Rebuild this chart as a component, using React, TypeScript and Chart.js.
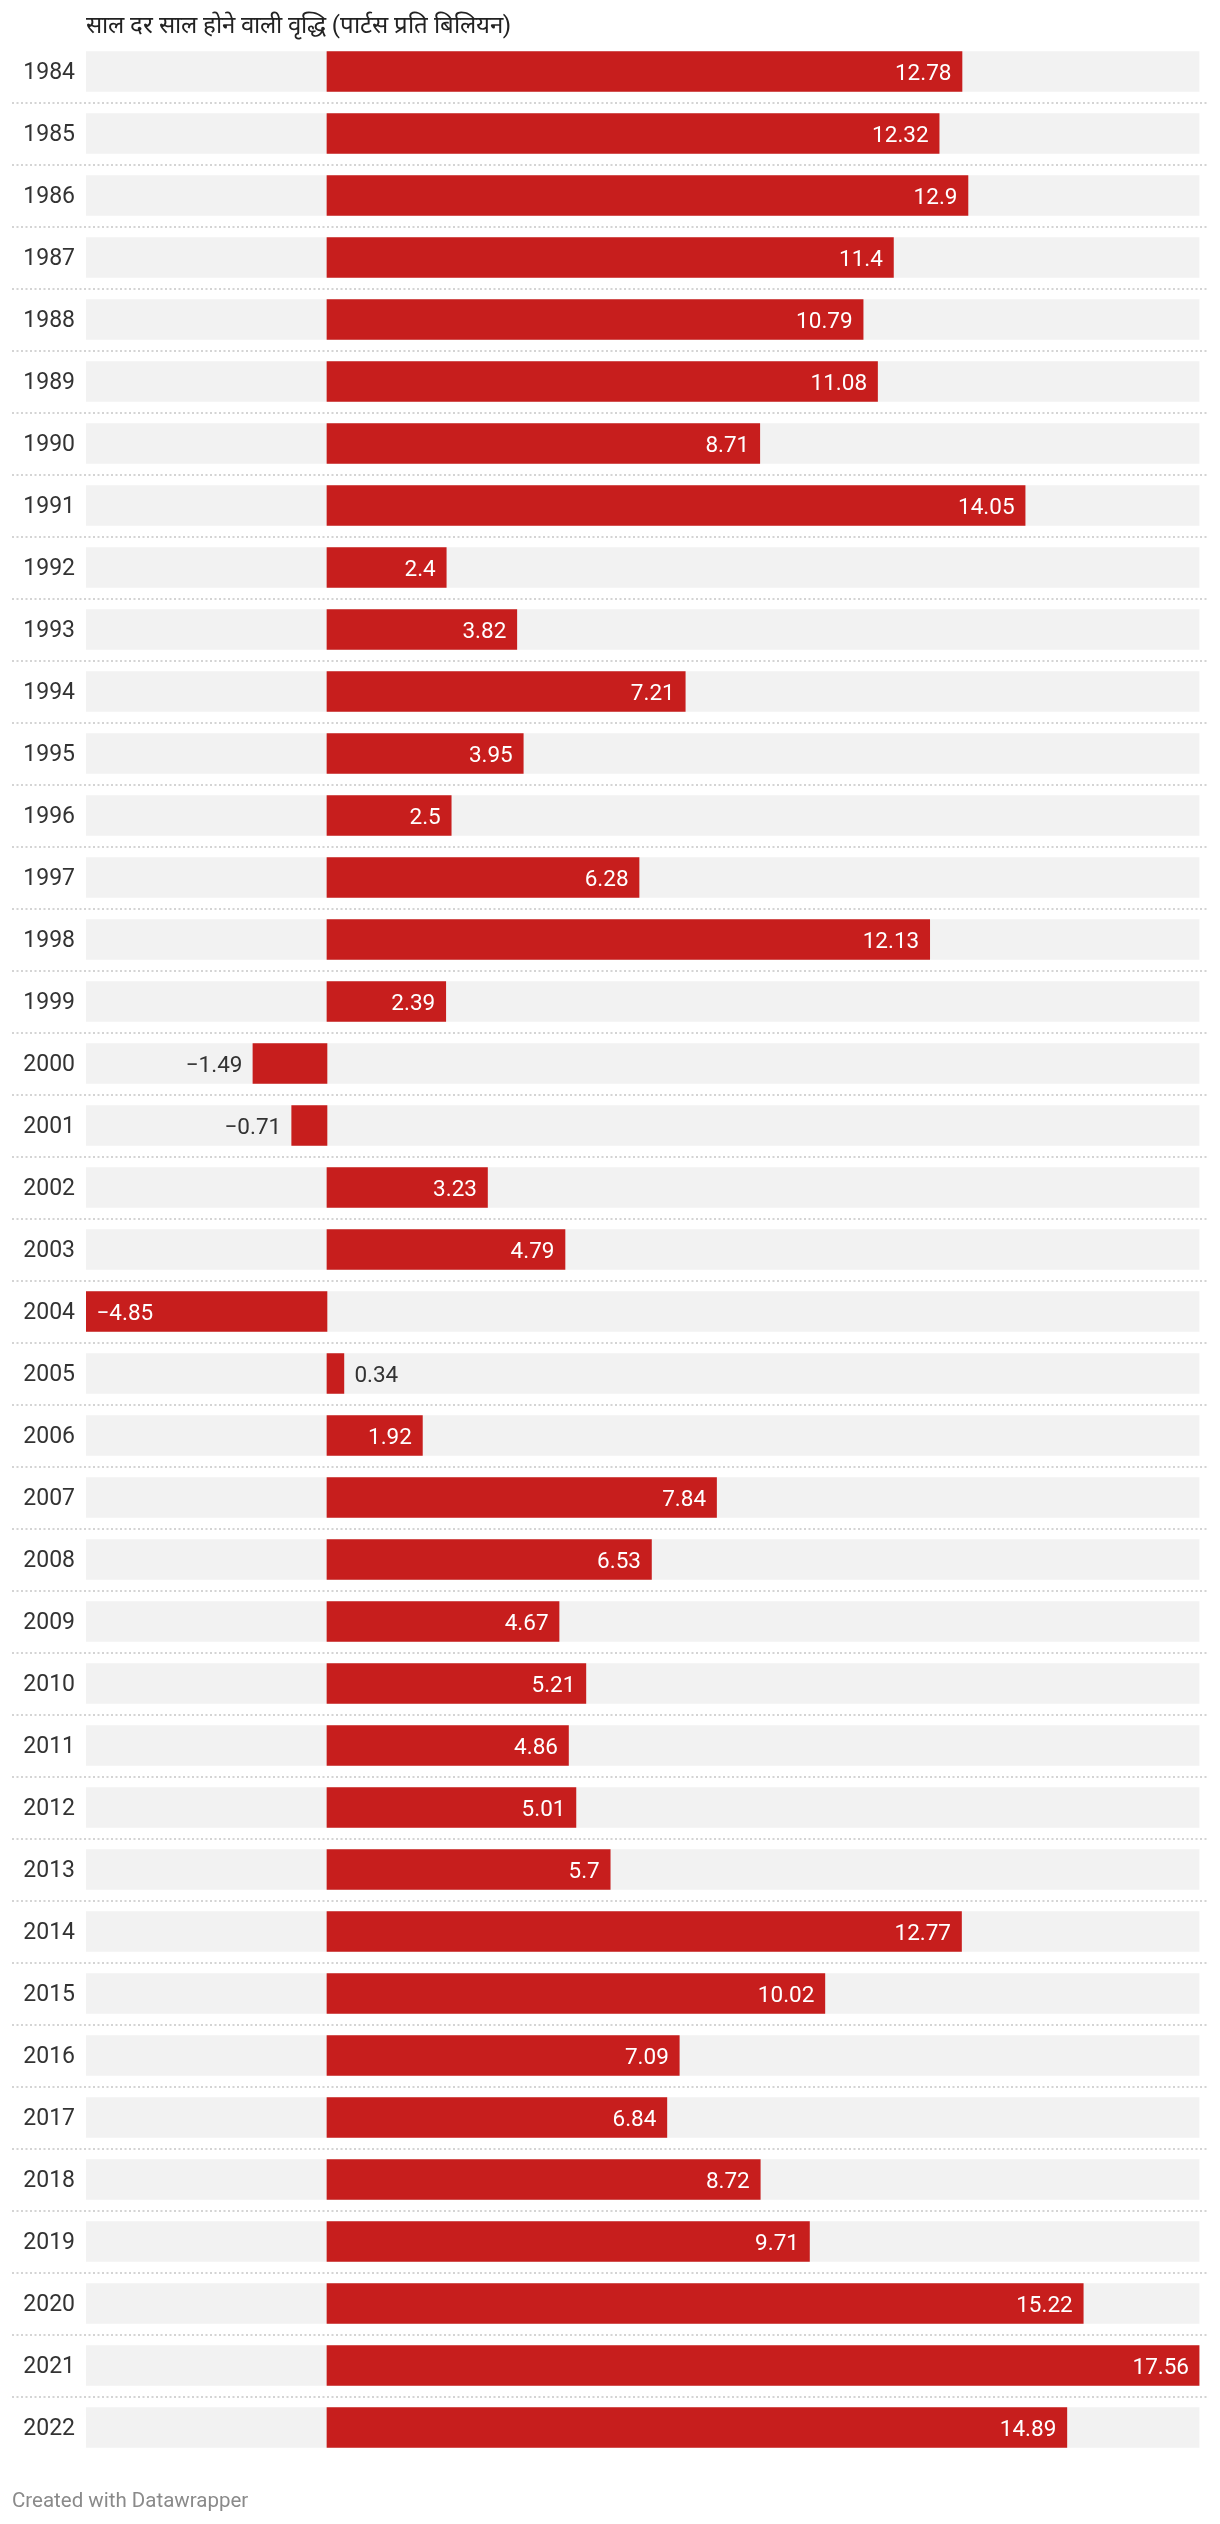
import React, { useEffect, useRef } from "react";
import { Chart, registerables } from "chart.js";

Chart.register(...registerables);

const years: string[] = [
  "1984", "1985", "1986", "1987", "1988", "1989", "1990", "1991", "1992", "1993",
  "1994", "1995", "1996", "1997", "1998", "1999", "2000", "2001", "2002", "2003",
  "2004", "2005", "2006", "2007", "2008", "2009", "2010", "2011", "2012", "2013",
  "2014", "2015", "2016", "2017", "2018", "2019", "2020", "2021", "2022",
];

const growth: number[] = [
  12.78, 12.32, 12.9, 11.4, 10.79, 11.08, 8.71, 14.05, 2.4, 3.82,
  7.21, 3.95, 2.5, 6.28, 12.13, 2.39, -1.49, -0.71, 3.23, 4.79,
  -4.85, 0.34, 1.92, 7.84, 6.53, 4.67, 5.21, 4.86, 5.01, 5.7,
  12.77, 10.02, 7.09, 6.84, 8.72, 9.71, 15.22, 17.56, 14.89,
];

const axisMin = -4.85;
const axisMax = 17.56;

const titleText = "साल दर साल होने वाली वृद्धि (पार्टस प्रति बिलियन)";
const footerText = "Created with Datawrapper";

const RED = "#c71e1d";
const BG = "#f2f2f2";
const DARK = "#333333";

const fmt = (v: number) => (v < 0 ? "\u2212" + Math.abs(v) : String(v));

export default function App() {
  const ref = useRef<HTMLCanvasElement | null>(null);

  useEffect(() => {
    document.body.style.margin = "0";
    const canvas = ref.current;
    if (!canvas) return;

    const separators = {
      id: "separators",
      beforeDatasetsDraw(chart: any) {
        const ctx = chart.ctx;
        const y = chart.scales.y;
        ctx.save();
        ctx.strokeStyle = "#d4d4d4";
        ctx.lineWidth = 2;
        ctx.setLineDash([2, 2.5]);
        for (let i = 0; i < years.length - 1; i++) {
          const py = Math.round((y.getPixelForValue(i) + y.getPixelForValue(i + 1)) / 2);
          ctx.beginPath();
          ctx.moveTo(12, py);
          ctx.lineTo(1209, py);
          ctx.stroke();
        }
        ctx.restore();
      },
    };

    const valueLabels = {
      id: "valueLabels",
      afterDatasetsDraw(chart: any) {
        const ctx = chart.ctx;
        const meta = chart.getDatasetMeta(0);
        ctx.save();
        ctx.font = "22.5px Roboto";
        ctx.textBaseline = "alphabetic";
        const pad = 10.5;
        meta.data.forEach((el: any, i: number) => {
          const v = growth[i];
          const txt = fmt(v);
          const w = ctx.measureText(txt).width;
          const barW = Math.abs(el.x - el.base);
          const ty = el.y + 8;
          const inside = w + 2 * pad < barW;
          if (v >= 0) {
            if (inside) {
              ctx.fillStyle = "#ffffff";
              ctx.textAlign = "right";
              ctx.fillText(txt, el.x - pad, ty);
            } else {
              ctx.fillStyle = DARK;
              ctx.textAlign = "left";
              ctx.fillText(txt, el.x + pad, ty);
            }
          } else {
            if (inside) {
              ctx.fillStyle = "#ffffff";
              ctx.textAlign = "left";
              ctx.fillText(txt, el.x + pad, ty);
            } else {
              ctx.fillStyle = DARK;
              ctx.textAlign = "right";
              ctx.fillText(txt, el.x - pad, ty);
            }
          }
        });
        ctx.restore();
      },
    };

    const texts = {
      id: "texts",
      afterDraw(chart: any) {
        const ctx = chart.ctx;
        ctx.save();
        ctx.textAlign = "left";
        ctx.textBaseline = "alphabetic";
        ctx.fillStyle = "#222222";
        ctx.font = "24px Roboto";
        ctx.fillText(titleText, 86, 33);
        ctx.fillStyle = "#8a8a8a";
        ctx.font = "20.5px Roboto";
        ctx.fillText(footerText, 12, 2507);
        ctx.restore();
      },
    };

    const chart = new Chart(canvas, {
      type: "bar",
      data: {
        labels: years,
        datasets: [
          {
            data: growth,
            backgroundColor: RED,
            barThickness: 40,
            grouped: false,
            order: 1,
          },
          {
            data: years.map(() => [axisMin, axisMax]),
            backgroundColor: BG,
            barThickness: 40,
            grouped: false,
            order: 2,
          },
        ] as any,
      },
      options: {
        indexAxis: "y",
        responsive: false,
        animation: false,
        layout: { padding: { left: 0, right: 20.5, top: 40.5, bottom: 65.5 } },
        plugins: {
          legend: { display: false },
          tooltip: { enabled: false },
          title: { display: false },
        },
        scales: {
          x: {
            display: false,
            min: axisMin,
            max: axisMax,
          },
          y: {
            display: true,
            grid: { display: false, drawTicks: false },
            border: { display: false },
            ticks: {
              padding: 11,
              labelOffset: 2,
              color: DARK,
              font: { family: "Roboto", size: 23 },
            },
            afterFit(scale: any) {
              scale.width = 86;
            },
          },
        },
      } as any,
      plugins: [separators, valueLabels, texts],
    });

    return () => chart.destroy();
  }, []);

  return (
    <div style={{ width: 1220, height: 2524, background: "#ffffff" }}>
      <canvas ref={ref} width={1220} height={2524} style={{ display: "block", width: 1220, height: 2524 }} />
    </div>
  );
}
